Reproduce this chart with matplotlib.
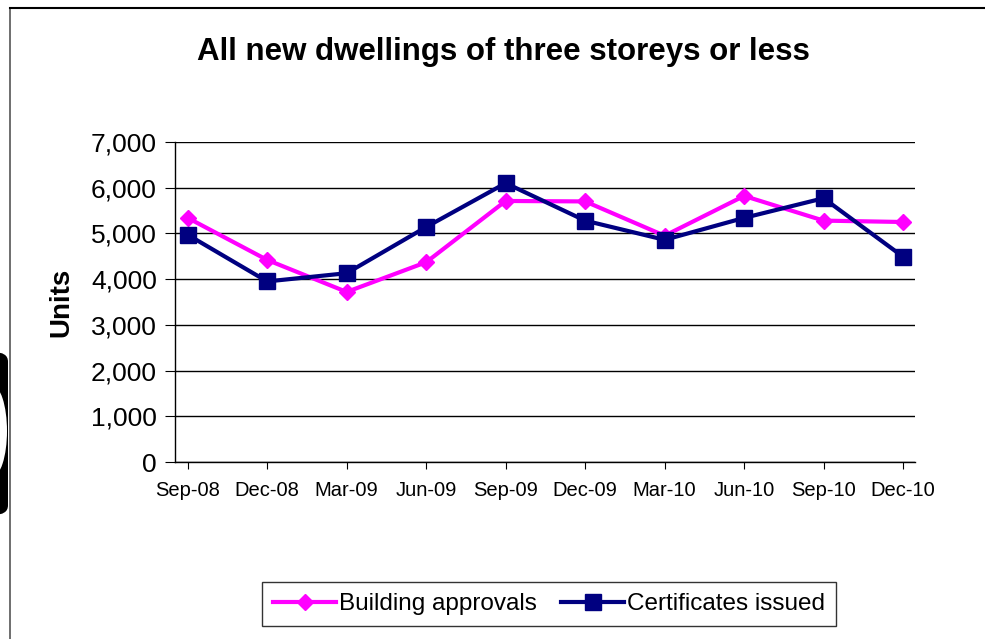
import matplotlib.pyplot as plt
from matplotlib.patches import FancyBboxPatch, Ellipse

plt.rcParams['font.family'] = ['Liberation Sans', 'DejaVu Sans']

quarters = ['Sep-08', 'Dec-08', 'Mar-09', 'Jun-09', 'Sep-09',
            'Dec-09', 'Mar-10', 'Jun-10', 'Sep-10', 'Dec-10']
approvals = [5340, 4420, 3720, 4370, 5710, 5700, 4950, 5820, 5280, 5250]
certificates = [4970, 3950, 4130, 5140, 6100, 5280, 4860, 5340, 5770, 4490]
yticks = [0, 1000, 2000, 3000, 4000, 5000, 6000, 7000]

W, H = 985, 639
fig = plt.figure(figsize=(W / 100, H / 100), dpi=100)

# outer chart border (left and top only visible) and the scan blob on the left
fig.add_artist(plt.Line2D([10 / W, 10 / W], [0, 1 - 8 / H], transform=fig.transFigure,
                          color='#555555', lw=1.2))
fig.add_artist(plt.Line2D([10 / W, 1], [1 - 8 / H, 1 - 8 / H], transform=fig.transFigure,
                          color='black', lw=1.5))
fig.add_artist(FancyBboxPatch((-20 / W, 1 - 515 / H), 28 / W, 163 / H,
                              boxstyle='round,pad=0,rounding_size=0.015',
                              transform=fig.transFigure, color='black', lw=0))
fig.add_artist(Ellipse((-8 / W, 1 - 431 / H), 30 / W, 92 / H,
                       transform=fig.transFigure, color='white', lw=0))

ax = fig.add_axes([175 / W, 1 - 462 / H, (915 - 175) / W, (462 - 142) / H])
x = list(range(len(quarters)))
ax.plot(x, approvals, color='#FF00FF', lw=3, marker='D', markersize=8.5,
        label='Building approvals', zorder=3)
ax.plot(x, certificates, color='#000080', lw=3, marker='s', markersize=12,
        label='Certificates issued', zorder=4)

ax.set_xlim(-0.16, 9.15)
ax.set_ylim(0, 7000)
ax.set_yticks(yticks)
ax.set_yticklabels([f'{v:,}' for v in yticks], fontsize=19)
ax.set_xticks(x)
ax.set_xticklabels(quarters, fontsize=14.5)
ax.yaxis.grid(True, color='black', lw=1)
ax.set_axisbelow(True)
for s in ['top', 'right']:
    ax.spines[s].set_visible(False)
ax.spines['left'].set_linewidth(1)
ax.spines['bottom'].set_linewidth(1)
ax.tick_params(axis='y', direction='out', length=7, pad=6)
ax.tick_params(axis='x', direction='out', length=5, pad=9)

ax.set_ylabel('Units', fontsize=20, fontweight='bold', labelpad=12)
fig.text(503 / W, 1 - 52 / H, 'All new dwellings of three storeys or less',
         ha='center', va='center', fontsize=22.5, fontweight='bold')

leg = fig.legend(loc='center', bbox_to_anchor=(549 / W, 1 - 604 / H), ncol=2,
                 fontsize=17.5, frameon=True, fancybox=False, edgecolor='black',
                 handlelength=2.6, columnspacing=1.0, handletextpad=0.1,
                 borderpad=0.45)
leg.get_frame().set_linewidth(1)

fig.savefig('out.png', dpi=100)
